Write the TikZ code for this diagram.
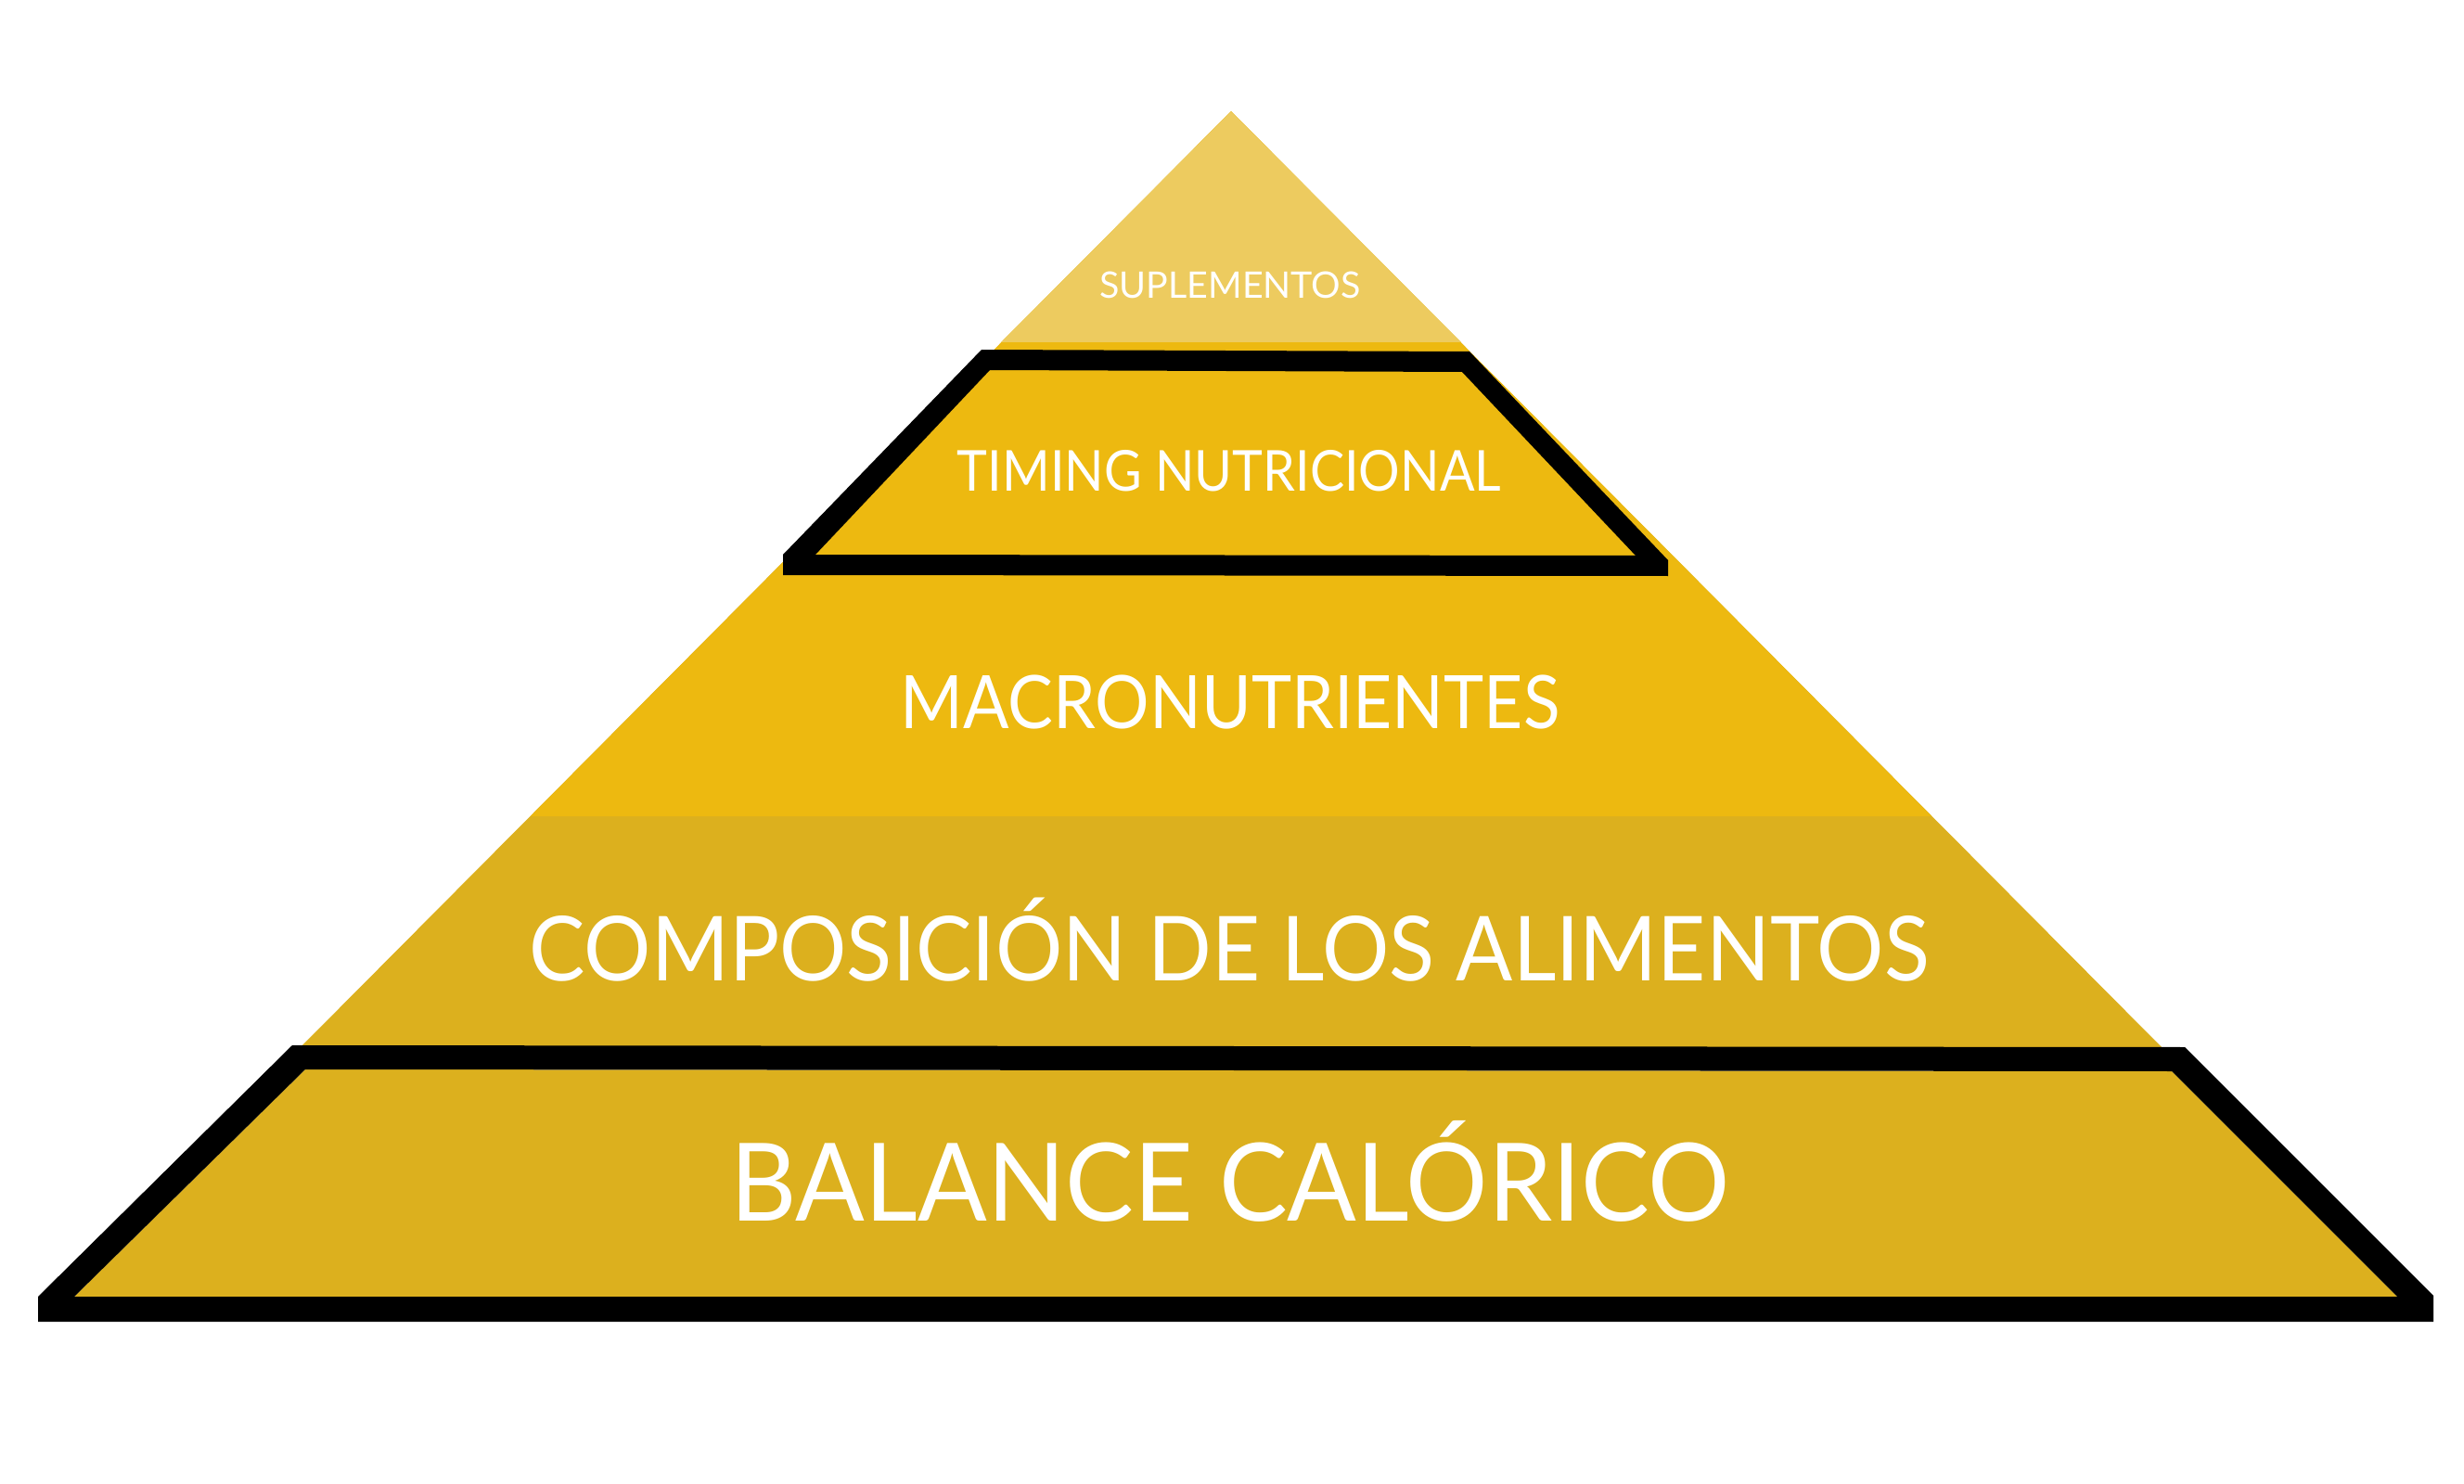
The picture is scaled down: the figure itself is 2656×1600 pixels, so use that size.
\documentclass[tikz,border=0pt]{standalone}
\usepackage{graphicx}
\usepackage{fontspec}
\setmainfont{Lato}

\definecolor{suplem}{HTML}{EDCB5F}
\definecolor{macro}{HTML}{EDB910}
\definecolor{compo}{HTML}{DCB01E}

\begin{document}
\begin{tikzpicture}[x=0.01cm,y=-0.01cm,
  level/.style={text=white, inner sep=0pt, anchor=base}]
\useasboundingbox (0,0) rectangle (2656,1600);

% pyramid, one band over the other
\fill[compo] (1327,120) -- (2331,1130) -- (323,1130) -- cycle;
\fill[macro] (1327,120) -- (2082,880) -- (572,880) -- cycle;
\fill[suplem] (1327,120) -- (1575,369) -- (1079,369) -- cycle;

% base step, wider than the pyramid
\fill[compo] (329,1153) -- (2341,1155) -- (2584,1398) -- (80,1398) -- cycle;
\fill[black, even odd rule]
  (315,1127) -- (2355,1129) -- (2623,1397) -- (2623,1425) -- (41,1425) -- (41,1398) -- cycle
  (329,1153) -- (2341,1155) -- (2584,1398) -- (80,1398) -- cycle;

% second step outline
\fill[black, even odd rule]
  (1058,377) -- (1584,379) -- (1798,604) -- (1798,621) -- (844,620) -- (844,598) -- cycle
  (1067,399) -- (1576,401) -- (1763,599) -- (879,598) -- cycle;

% labels
\node[level, font=\fontsize{11.2}{12}\selectfont] (suple) at (1326,322) {SUPLEMENTOS};
\node[level, font=\fontsize{17.3}{20}\selectfont] (timing) at (1325,530) {\scalebox{0.915}[1]{TIMING NUTRICIONAL}};
\node[level, font=\fontsize{22.6}{26}\selectfont] (macro) at (1326,785) {\scalebox{0.92}[1]{MACRONUTRIENTES}};
\node[level, font=\fontsize{27.5}{32}\selectfont] (compo) at (1325,1057) {\scalebox{0.935}[1]{COMPOSICIÓN DE LOS ALIMENTOS}};
\node[level, font=\fontsize{33.2}{40}\selectfont] (balance) at (1326,1316) {\scalebox{0.946}[1]{BALANCE CALÓRICO}};
\end{tikzpicture}
\end{document}
